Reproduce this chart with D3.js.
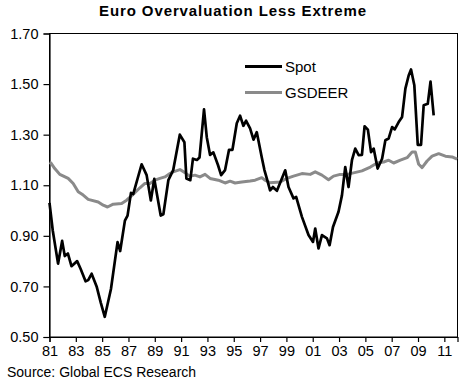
<!DOCTYPE html>
<html><head><meta charset="utf-8">
<script src="https://cdn.jsdelivr.net/npm/d3@7"></script>
<style>body{margin:0;background:#fff}svg{display:block}</style>
</head><body>
<script>
const title = "Euro Overvaluation Less Extreme";
const source = "Source: Global ECS Research";
const seriesNames = ["Spot", "GSDEER"];
const yTicks = [0.50, 0.70, 0.90, 1.10, 1.30, 1.50, 1.70];
const xTicks = [1981,1983,1985,1987,1989,1991,1993,1995,1997,1999,2001,2003,2005,2007,2009,2011];

const spotDates = [1981.00,1981.25,1981.65,1981.96,1982.16,1982.40,1982.67,1983.10,1983.36,1983.74,1983.94,1984.20,1984.58,1984.90,1985.20,1985.67,1986.17,1986.37,1986.73,1986.93,1987.19,1987.36,1988.00,1988.38,1988.70,1988.96,1989.45,1989.65,1990.03,1990.40,1990.90,1991.25,1991.40,1991.70,1991.90,1992.20,1992.40,1992.74,1992.95,1993.20,1993.45,1993.80,1994.04,1994.34,1994.64,1994.90,1995.23,1995.48,1995.73,1995.94,1996.24,1996.50,1996.75,1997.13,1997.33,1997.51,1997.76,1997.97,1998.28,1998.91,1999.16,1999.54,1999.74,2000.18,2000.68,2001.02,2001.19,2001.44,2001.70,2002.08,2002.28,2002.54,2002.96,2003.22,2003.47,2003.72,2003.98,2004.23,2004.49,2004.74,2004.94,2005.19,2005.43,2005.63,2005.93,2006.27,2006.52,2006.77,2007.03,2007.23,2007.53,2007.79,2008.04,2008.29,2008.47,2008.72,2008.98,2009.23,2009.43,2009.74,2009.95,2010.19];
const spotValues = [1.03,0.92,0.79,0.88,0.82,0.83,0.78,0.80,0.77,0.72,0.725,0.75,0.70,0.635,0.58,0.69,0.875,0.84,0.96,0.98,1.07,1.065,1.183,1.14,1.04,1.125,0.98,0.985,1.12,1.16,1.30,1.27,1.127,1.12,1.205,1.20,1.21,1.40,1.29,1.22,1.23,1.18,1.14,1.16,1.24,1.24,1.345,1.375,1.335,1.355,1.325,1.28,1.31,1.21,1.16,1.127,1.08,1.093,1.078,1.159,1.093,1.048,1.054,0.975,0.903,0.876,0.929,0.85,0.903,0.89,0.863,0.935,0.995,1.06,1.172,1.093,1.199,1.245,1.219,1.22,1.333,1.32,1.231,1.245,1.166,1.205,1.278,1.285,1.33,1.321,1.35,1.37,1.482,1.534,1.558,1.495,1.26,1.26,1.416,1.422,1.51,1.376];

const gsdeerDates = [1981.0,1981.1,1981.4,1981.78,1982.42,1982.8,1983.18,1983.56,1983.94,1984.7,1985.08,1985.41,1985.84,1986.48,1986.86,1987.29,1987.87,1988.25,1988.63,1989.01,1989.39,1989.77,1990.15,1990.4,1990.91,1991.29,1991.67,1992.05,1992.43,1992.82,1993.2,1993.83,1994.34,1994.72,1995.1,1995.61,1996.24,1996.62,1997.13,1997.38,1997.76,1998.52,1999.04,1999.54,2000.18,2000.81,2001.19,2001.7,2002.2,2002.58,2003.09,2003.6,2004.1,2004.74,2005.38,2005.89,2006.39,2006.77,2007.15,2007.66,2008.17,2008.55,2008.8,2009.05,2009.31,2009.69,2010.07,2010.57,2011.08,2011.59,2011.97];
const gsdeerValues = [1.19,1.188,1.166,1.143,1.127,1.107,1.074,1.061,1.044,1.034,1.021,1.014,1.025,1.028,1.041,1.061,1.09,1.107,1.107,1.12,1.127,1.133,1.146,1.153,1.162,1.15,1.135,1.14,1.133,1.143,1.127,1.12,1.109,1.116,1.109,1.113,1.117,1.12,1.13,1.12,1.11,1.113,1.127,1.136,1.146,1.143,1.153,1.14,1.122,1.136,1.143,1.143,1.149,1.157,1.172,1.188,1.192,1.199,1.188,1.199,1.209,1.231,1.231,1.183,1.17,1.196,1.215,1.225,1.215,1.212,1.203];

const W = 468, H = 380;
const m = {left: 49.5, right: 457.5, top: 33.5, bottom: 337};
const svg = d3.select("body").append("svg").attr("width", W).attr("height", H)
  .style("font-family", "'Liberation Sans', Arial, sans-serif");

const x = d3.scaleLinear().domain([1981, 2012]).range([m.left, m.right]);
const y = d3.scaleLinear().domain([0.5, 1.7]).range([m.bottom, m.top]);

svg.append("text").attr("x", 233).attr("y", 16).attr("text-anchor", "middle")
  .attr("font-size", 15).attr("font-weight", "bold").attr("letter-spacing", 0.9).text(title);

// frame
svg.append("rect").attr("x", m.left).attr("y", m.top).attr("width", m.right - m.left)
  .attr("height", m.bottom - m.top).attr("fill", "none").attr("stroke", "#000").attr("stroke-width", 1);

const yAxis = svg.append("g").attr("transform", `translate(${m.left},0)`)
  .call(d3.axisLeft(y).tickValues(yTicks).tickFormat(d3.format(".2f")).tickSizeOuter(0).tickSize(6).tickPadding(5));
const xAxis = svg.append("g").attr("transform", `translate(0,${m.bottom})`)
  .call(d3.axisBottom(x).tickValues(xTicks).tickFormat(d => String(d % 100).padStart(2, "0")).tickSizeOuter(0).tickSize(5).tickPadding(4));
[yAxis, xAxis].forEach(g => {
  g.selectAll("text").attr("font-size", 14.5).attr("fill", "#000").style("font-family", "'Liberation Sans', Arial, sans-serif");
  g.selectAll("line,path").attr("stroke", "#000").attr("stroke-width", 1.2);
});

const line = d3.line().x(d => x(d[0])).y(d => y(d[1]));
const gs = gsdeerDates.map((d, i) => [d, gsdeerValues[i]]);
const sp = spotDates.map((d, i) => [d, spotValues[i]]);
svg.append("path").datum(gs).attr("d", line).attr("fill", "none").attr("stroke", "#8a8a8a").attr("stroke-width", 3).attr("stroke-linejoin", "round");
svg.append("path").datum(sp).attr("d", line).attr("fill", "none").attr("stroke", "#000").attr("stroke-width", 2.7).attr("stroke-linejoin", "round");

// legend
const legColors = ["#000", "#8a8a8a"];
seriesNames.forEach((n, i) => {
  const ly = 66.5 + i * 26;
  svg.append("line").attr("x1", 245).attr("x2", 282).attr("y1", ly).attr("y2", ly)
    .attr("stroke", legColors[i]).attr("stroke-width", 3);
  svg.append("text").attr("x", 285).attr("y", ly + 5.5).attr("font-size", 15).text(n);
});

svg.append("text").attr("x", 7).attr("y", 376.5).attr("font-size", 14).text(source);
</script>
</body></html>
